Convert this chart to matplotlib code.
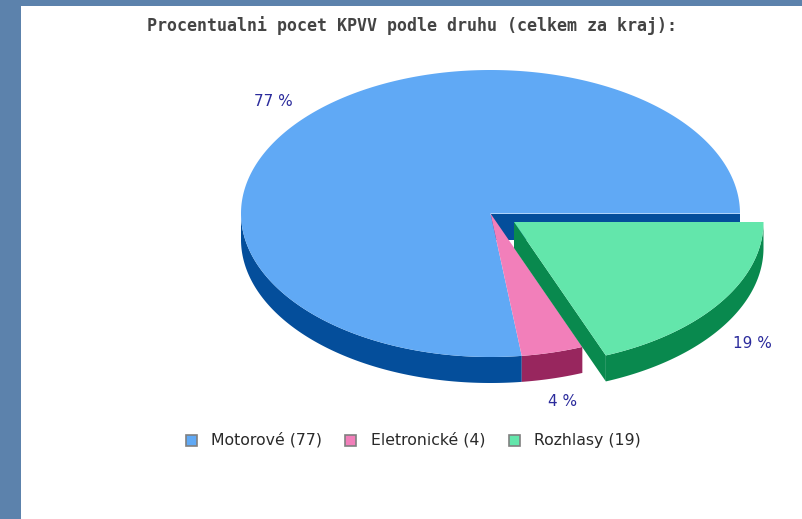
#!/usr/bin/env python3

import numpy as np
import matplotlib
matplotlib.use("Agg")
import matplotlib.pyplot as plt
from matplotlib.patches import Polygon, Rectangle

title = "Procentualni pocet KPVV podle druhu (celkem za kraj):"
categories = ["Motorové", "Eletronické", "Rozhlasy"]
values = [77, 4, 19]
top_colors = ["#60a9f5", "#f27fba", "#63e6ab"]
side_colors = ["#044e9b", "#98265e", "#09894e"]

RX, RY = 249.5, 143.5
DEPTH = 26
CX, CY = 490.5, 213.5
EX, EY = 514, 222


def arc(cx, cy, a0, a1, dy=0.0):
    # angles in degrees, clockwise on screen starting from 3 o'clock
    t = np.radians(np.linspace(a0, a1, 300))
    return np.column_stack([cx + RX * np.cos(t), cy + RY * np.sin(t) + dy])


def draw_side(ax, cx, cy, a0, a1, color):
    # only the part of the rim facing the viewer (lower half) has a wall
    lo, hi = max(a0, 0), min(a1, 180)
    if hi <= lo:
        return
    upper = arc(cx, cy, lo, hi)
    lower = arc(cx, cy, lo, hi, DEPTH)[::-1]
    ax.add_patch(Polygon(np.vstack([upper, lower]), closed=True, fc=color, ec="none"))


def draw_top(ax, cx, cy, a0, a1, color):
    pts = np.vstack([[cx, cy], arc(cx, cy, a0, a1)])
    ax.add_patch(Polygon(pts, closed=True, fc=color, ec="none"))


fig = plt.figure(figsize=(8.02, 5.19), dpi=100, facecolor="#5c82ac")
ax = fig.add_axes([0, 0, 1, 1])
ax.set_xlim(0, 802)
ax.set_ylim(519, 0)
ax.axis("off")

ax.add_patch(Rectangle((21, 6), 781, 513, fc="white", ec="none"))

ax.text(412, 26, title, family="DejaVu Sans Mono", weight="bold", fontsize=12,
        color="#444444", ha="center", va="center")

total = sum(values)
sweeps = [v / total * 360 for v in values]
# slices run counter-clockwise from 3 o'clock: motor, pink, green
ends = np.cumsum(sweeps)
starts = ends - sweeps
spans = [(360 - e, 360 - s) for s, e in zip(starts, ends)]

# walls of the main body
draw_side(ax, CX, CY, *spans[0], side_colors[0])
draw_side(ax, CX, CY, *spans[1], side_colors[1])
# cut face left open by the pulled out slice
ax.add_patch(Polygon([(CX, CY), (CX + RX, CY), (CX + RX, CY + DEPTH), (CX, CY + DEPTH)],
                     closed=True, fc=side_colors[0], ec="none"))
draw_top(ax, CX, CY, *spans[0], top_colors[0])
draw_top(ax, CX, CY, *spans[1], top_colors[1])

# pulled out slice
stop = sweeps[2]
tip = arc(EX, EY, stop, stop)[0]
ax.add_patch(Polygon([(EX, EY), (EX, EY + DEPTH), (tip[0], tip[1] + DEPTH), tip],
                     closed=True, fc=side_colors[2], ec="none"))
draw_side(ax, EX, EY, 0, stop, side_colors[2])
draw_top(ax, EX, EY, 0, stop, top_colors[2])

for val, x, y in zip(values, [273.5, 562.5, 752.5], [102, 401, 343]):
    ax.text(x, y, f"{val} %", fontsize=11, color="#2b2b9c", ha="center", va="center")

for cat, val, top, bx, tx in zip(categories, values, top_colors, [186, 345, 509], [211, 371, 534]):
    ax.add_patch(Rectangle((bx, 435), 11, 11, fc=top, ec="#808080", lw=1.2))
    ax.text(tx, 440, f"{cat} ({val})", fontsize=11.3, color="#2a2a2a", ha="left", va="center")

fig.savefig("out.png", dpi=100, facecolor=fig.get_facecolor())
plt.close(fig)
